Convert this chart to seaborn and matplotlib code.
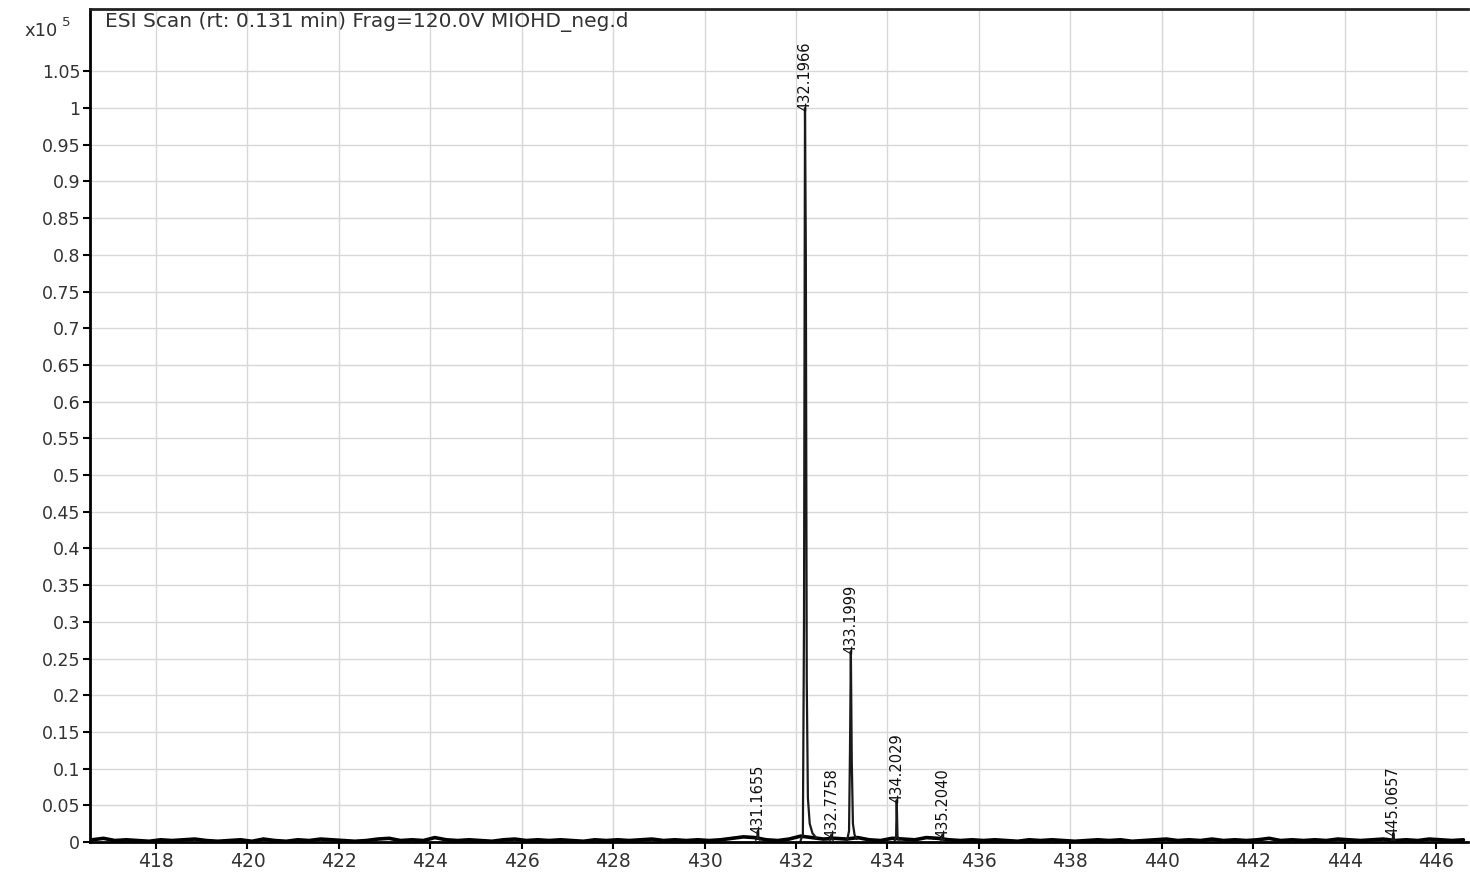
import matplotlib
matplotlib.use("Agg")
import matplotlib.pyplot as plt
import numpy as np
import pandas as pd
import seaborn as sns
from matplotlib import font_manager

# intensity in units of 1e5 counts
noise_start = 416.6
noise_step = 0.25
noise_values = [
    0.003, 0.005, 0.002, 0.003, 0.002, 0.001, 0.003, 0.002,   # 416.6 - 418.35
    0.003, 0.004, 0.002, 0.001, 0.002, 0.003, 0.001, 0.004,   # 418.6 - 420.35
    0.002, 0.001, 0.003, 0.002, 0.004, 0.003, 0.002, 0.001,   # 420.6 - 422.35
    0.002, 0.004, 0.005, 0.002, 0.003, 0.002, 0.006, 0.003,   # 422.6 - 424.35
    0.002, 0.003, 0.002, 0.001, 0.003, 0.004, 0.002, 0.003,   # 424.6 - 426.35
    0.002, 0.003, 0.002, 0.001, 0.003, 0.002, 0.003, 0.002,   # 426.6 - 428.35
    0.003, 0.004, 0.002, 0.003, 0.002, 0.003, 0.002, 0.003,   # 428.6 - 430.35
    0.005, 0.007, 0.006, 0.003, 0.002, 0.004, 0.008, 0.006,   # 430.6 - 432.35
    0.004, 0.005, 0.004, 0.006, 0.003, 0.002, 0.005, 0.004,   # 432.6 - 434.35
    0.003, 0.006, 0.005, 0.003, 0.002, 0.003, 0.002, 0.003,   # 434.6 - 436.35
    0.002, 0.001, 0.003, 0.002, 0.003, 0.002, 0.001, 0.002,   # 436.6 - 438.35
    0.003, 0.002, 0.003, 0.001, 0.002, 0.003, 0.004, 0.002,   # 438.6 - 440.35
    0.003, 0.002, 0.004, 0.002, 0.003, 0.002, 0.003, 0.005,   # 440.6 - 442.35
    0.002, 0.003, 0.002, 0.003, 0.002, 0.004, 0.003, 0.002,   # 442.6 - 444.35
    0.003, 0.004, 0.002, 0.003, 0.002, 0.004, 0.003, 0.002,   # 444.6 - 446.35
    0.003,
]

# profile points of the labelled peaks
peak_mz = [
    [431.12, 431.15, 431.1655, 431.18, 431.21],
    [432.10, 432.15, 432.175, 432.1966, 432.215, 432.235, 432.26, 432.30, 432.36, 432.45],
    [432.74, 432.765, 432.7758, 432.79, 432.81],
    [433.12, 433.16, 433.18, 433.1999, 433.22, 433.245, 433.28, 433.33],
    [434.16, 434.19, 434.2029, 434.22, 434.25],
    [435.17, 435.195, 435.2040, 435.215, 435.24],
    [445.03, 445.055, 445.0657, 445.08, 445.10],
]
peak_intensity = [
    [0.003, 0.006, 0.015, 0.005, 0.003],
    [0.002, 0.010, 0.30, 1.00, 0.80, 0.22, 0.06, 0.025, 0.012, 0.005],
    [0.003, 0.005, 0.010, 0.004, 0.003],
    [0.003, 0.015, 0.12, 0.26, 0.11, 0.025, 0.010, 0.004],
    [0.002, 0.008, 0.057, 0.008, 0.003],
    [0.003, 0.005, 0.010, 0.005, 0.003],
    [0.002, 0.004, 0.012, 0.004, 0.002],
]
peak_labels = ["431.1655", "432.1966", "432.7758", "433.1999", "434.2029", "435.2040", "445.0657"]

x_ticks = list(range(418, 447, 2))
y_ticks = [round(0.05 * i, 2) for i in range(22)]
title_text = "ESI Scan (rt: 0.131 min) Frag=120.0V MIOHD_neg.d"


def pick_font(names):
    for name in names:
        try:
            font_manager.findfont(name, fallback_to_default=False)
            return name
        except ValueError:
            continue
    return "DejaVu Sans"


sns.set_theme(style="whitegrid")
plt.rcParams["font.family"] = ["DejaVu Sans"]
label_font = pick_font(["Liberation Sans Narrow", "DejaVu Sans Condensed", "DejaVu Sans"])
label_size = 14 if label_font == "Liberation Sans Narrow" else 10.5

noise_df = pd.DataFrame({
    "mz": noise_start + noise_step * np.arange(len(noise_values)),
    "intensity": noise_values,
})

fig = plt.figure(figsize=(14.7, 8.72), dpi=100)
ax = fig.add_axes([90 / 1470, 30 / 872, 1378 / 1470, 833 / 872])
ax.set_facecolor("white")

sns.lineplot(data=noise_df, x="mz", y="intensity", ax=ax, color="black",
             linewidth=2.6, estimator=None, sort=True, clip_on=False)

for mzs, vals, label in zip(peak_mz, peak_intensity, peak_labels):
    peak_df = pd.DataFrame({"mz": mzs, "intensity": vals})
    sns.lineplot(data=peak_df, x="mz", y="intensity", ax=ax, color="#1a1a1a",
                 linewidth=1.6, estimator=None, sort=True)
    top = max(vals)
    top_mz = mzs[vals.index(top)]
    ax.text(top_mz, top - 0.004, label, rotation=90, ha="center", va="bottom",
            fontsize=label_size, family=[label_font, "DejaVu Sans"], color="#111111")

ax.set_xlim(416.556, 446.70)
ax.set_ylim(0, 1.135)
ax.set_xticks(x_ticks)
ax.set_yticks(y_ticks)
ax.set_xticklabels([str(t) for t in x_ticks])
ax.set_yticklabels([f"{t:g}" for t in y_ticks])
ax.set_xlabel("")
ax.set_ylabel("")

ax.grid(True, color="#d8d8d8", linewidth=1.0)
ax.tick_params(axis="x", direction="out", length=5, width=1.5, color="black",
               labelsize=13.5, labelcolor="#333333", pad=2, bottom=True)
ax.tick_params(axis="y", direction="out", length=5, width=1.5, color="black",
               labelsize=12.5, labelcolor="#333333", pad=2, left=True)

for side in ["left", "bottom"]:
    ax.spines[side].set_color("black")
    ax.spines[side].set_linewidth(2)
ax.spines["top"].set_color("#222222")
ax.spines["top"].set_linewidth(2)
ax.spines["right"].set_visible(False)

ax.text(0.011, 0.984, title_text, transform=ax.transAxes, ha="left", va="center",
        fontsize=14.5, color="#333333")
fig.text(58 / 1470, 1 - 31 / 872, "x10", ha="right", va="center", fontsize=13, color="#333333")
fig.text(62 / 1470, 1 - 23 / 872, "5", ha="left", va="center", fontsize=9.5, color="#333333")

fig.savefig("out.png", dpi=100)
